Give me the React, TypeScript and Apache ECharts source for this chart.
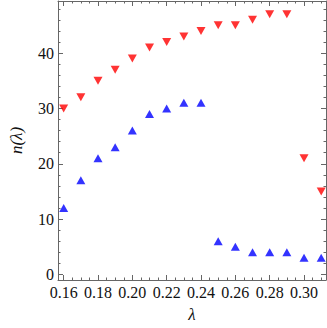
import React, { useEffect, useRef } from "react";
import * as echarts from "echarts";

const lambdas = [0.16, 0.17, 0.18, 0.19, 0.2, 0.21, 0.22, 0.23, 0.24, 0.25, 0.26, 0.27, 0.28, 0.29, 0.3, 0.31];
const redValues = [30, 32, 35, 37, 39, 41, 42, 43, 44, 45, 45, 46, 47, 47, 21, 15];
const blueValues = [12, 17, 21, 23, 26, 29, 30, 31, 31, 6, 5, 4, 4, 4, 3, 3];

const xMajorTicks = [0.16, 0.18, 0.2, 0.22, 0.24, 0.26, 0.28, 0.3];
const xMinorTicks = [0.165, 0.17, 0.175, 0.185, 0.19, 0.195, 0.205, 0.21, 0.215, 0.225, 0.23, 0.235, 0.245, 0.25, 0.255, 0.265, 0.27, 0.275, 0.285, 0.29, 0.295, 0.305, 0.31];
const yMajorTicks = [0, 10, 20, 30, 40];
const yMinorTicks = [2, 4, 6, 8, 12, 14, 16, 18, 22, 24, 26, 28, 32, 34, 36, 38, 42, 44, 46, 48];

const X_MIN = 0.1567;
const X_MAX = 0.3128;
const Y_MIN = -1.0;
const Y_MAX = 49.4;

const AXIS_COLOR = "#666666";
const FONT = "'Liberation Serif', 'Times New Roman', serif";

export default function App() {
  const ref = useRef<HTMLDivElement>(null);

  useEffect(() => {
    if (!ref.current) return;
    const chart = echarts.init(ref.current, undefined, { renderer: "svg" });

    const mkX = (position: "bottom" | "top", ticks: number[], len: number, main: boolean, labels: boolean) => ({
      type: "value",
      position,
      min: X_MIN,
      max: X_MAX,
      gridIndex: 0,
      axisLine: { show: main, onZero: false, lineStyle: { color: AXIS_COLOR, width: 1 } },
      axisTick: { show: true, inside: true, length: len, customValues: ticks, lineStyle: { color: AXIS_COLOR, width: 1 } },
      axisLabel: labels
        ? { show: true, customValues: ticks, margin: 4, color: "#111", fontFamily: FONT, fontSize: 16, formatter: (v: number) => v.toFixed(2) }
        : { show: false },
      splitLine: { show: false },
      name: main && labels ? "λ" : "",
      nameLocation: "middle",
      nameGap: 26,
      nameTextStyle: { fontFamily: FONT, fontStyle: "italic", fontSize: 17, color: "#111" },
    });

    const mkY = (position: "left" | "right", ticks: number[], len: number, main: boolean, labels: boolean) => ({
      type: "value",
      position,
      min: Y_MIN,
      max: Y_MAX,
      gridIndex: 0,
      axisLine: { show: main, onZero: false, lineStyle: { color: AXIS_COLOR, width: 1 } },
      axisTick: { show: true, inside: true, length: len, customValues: ticks, lineStyle: { color: AXIS_COLOR, width: 1 } },
      axisLabel: labels
        ? { show: true, customValues: ticks, margin: 4, color: "#111", fontFamily: FONT, fontSize: 16 }
        : { show: false },
      splitLine: { show: false },
      name: main && labels ? "n(λ)" : "",
      nameLocation: "middle",
      nameGap: 33,
      nameRotate: 90,
      nameTextStyle: { fontFamily: FONT, fontStyle: "italic", fontSize: 17, color: "#111" },
    });

    chart.setOption({
      animation: false,
      backgroundColor: "#ffffff",
      grid: { left: 42, right: 1, top: 1, bottom: 44, containLabel: false },
      xAxis: [
        mkX("bottom", xMajorTicks, 5, true, true),
        mkX("bottom", xMinorTicks, 2.5, false, false),
        mkX("top", xMajorTicks, 5, true, false),
        mkX("top", xMinorTicks, 2.5, false, false),
      ],
      yAxis: [
        mkY("left", yMajorTicks, 5, true, true),
        mkY("left", yMinorTicks, 2.5, false, false),
        mkY("right", yMajorTicks, 5, true, false),
        mkY("right", yMinorTicks, 2.5, false, false),
      ],
      series: [
        {
          type: "scatter",
          name: "red",
          xAxisIndex: 0,
          yAxisIndex: 0,
          symbol: "triangle",
          symbolRotate: 180,
          symbolSize: [9, 8],
          itemStyle: { color: "#ff0000" },
          data: lambdas.map((x, i) => [x, redValues[i]]),
        },
        {
          type: "scatter",
          name: "blue",
          xAxisIndex: 0,
          yAxisIndex: 0,
          symbol: "triangle",
          symbolSize: [9, 8],
          itemStyle: { color: "#0000ff" },
          data: lambdas.map((x, i) => [x, blueValues[i]]),
        },
      ],
    });

    return () => chart.dispose();
  }, []);

  return (
    <div
      ref={ref}
      style={{ position: "fixed", left: 0, top: 0, width: 327, height: 328, background: "#fff" }}
    />
  );
}
